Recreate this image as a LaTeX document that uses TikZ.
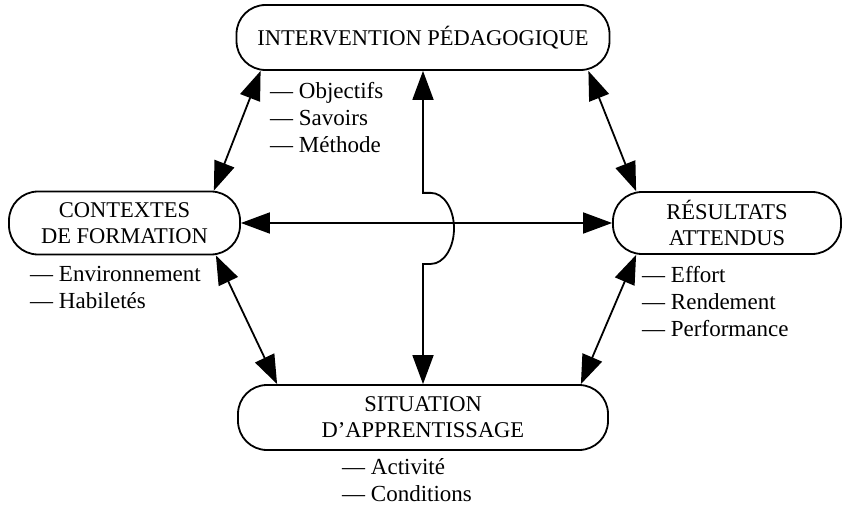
\documentclass[tikz,border=0pt]{standalone}
\usepackage{fontspec}
\setmainfont{Liberation Serif}
\usetikzlibrary{arrows.meta}

\begin{document}
\begin{tikzpicture}[x=1pt, y=-1pt,
		pole/.style={draw, line width=1.8pt, rounded corners=29pt, align=center, inner sep=0pt,
			font=\fontsize{22.5}{26}\selectfont},
		items/.style={anchor=north west, align=left, inner sep=0pt,
			font=\fontsize{23}{27}\selectfont},
		link/.style={line width=1.8pt,
			{Triangle[length=29pt,width=21pt]}-{Triangle[length=29pt,width=21pt]}}]
			%%%%% START %%%%%
			
			\useasboundingbox (0,0) rectangle (844,508);
			
			\node[pole, minimum width=373pt, minimum height=65pt] (ip) at (423,37.5) {INTERVENTION PÉDAGOGIQUE};
			\node[pole, minimum width=231pt, minimum height=63pt] (cf) at (124.5,223) {CONTEXTES\\DE FORMATION};
			\node[pole, minimum width=228pt, minimum height=62pt] (ra) at (727,223) {RÉSULTATS\\ATTENDUS};
			\node[pole, minimum width=370pt, minimum height=65pt] (sa) at (423,417.5) {SITUATION\\D’APPRENTISSAGE};
			
			\node[items] (ipl) at (270,82) {— Objectifs\\— Savoirs\\— Méthode};
			\node[items] (cfl) at (30,266) {— Environnement\\— Habiletés};
			\node[items] (ral) at (642,266) {— Effort\\— Rendement\\— Performance};
			\node[items] (sal) at (342,458) {— Activité\\— Conditions};
			
			\draw[link] ([xshift=25pt]ip.south west) -- ([xshift=-27pt]cf.north east);
			\draw[link] ([xshift=-22pt]ip.south east) -- ([xshift=24pt]ra.north west);
			\draw[link] ([xshift=-25pt]cf.south east) -- ([xshift=40pt]sa.north west);
			\draw[link] ([xshift=24pt]ra.south west) -- ([xshift=-28pt]sa.north east);
			\draw[link] (cf.east) -- (ra.west);
			
			% the vertical one jumps over the horizontal one
			\draw[link] (ip.south) -- ++(0,122) -- ++(8,0)
				arc[start angle=-90, end angle=90, x radius=23, y radius=35.5]
				-- ++(-8,0) -- (sa.north);
			
			%%%%% END %%%%%
		\end{tikzpicture}
\end{document}
